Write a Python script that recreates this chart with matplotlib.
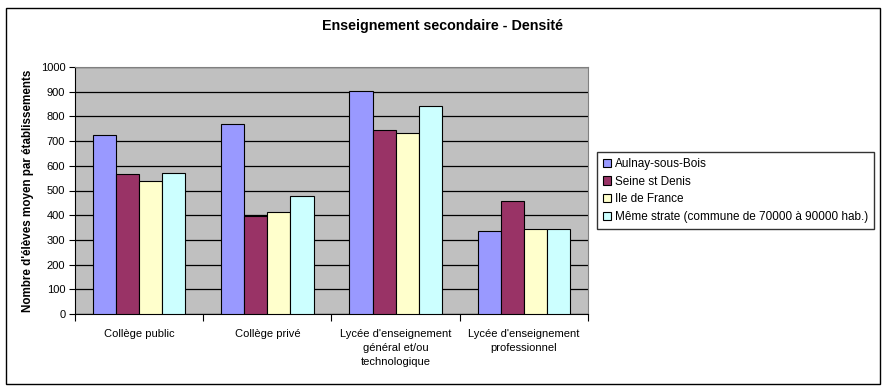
import matplotlib
matplotlib.use("Agg")
import matplotlib.pyplot as plt
from matplotlib.patches import Rectangle
import numpy as np

plt.rcParams['font.family'] = ['Liberation Sans', 'DejaVu Sans']

categories = ["Collège public", "Collège privé",
              "Lycée d'enseignement\ngénéral et/ou\ntechnologique",
              "Lycée d'enseignement\nprofessionnel"]
series_names = ["Aulnay-sous-Bois", "Seine st Denis", "Ile de France",
                "Même strate (commune de 70000 à 90000 hab.)"]
aulnay = [724, 768, 902, 335]
seine = [565, 398, 744, 456]
idf = [537, 414, 732, 343]
meme = [569, 476, 841, 343]
colors = ["#9999FF", "#993366", "#FFFFCC", "#CCFFFF"]
yticks = list(range(0, 1001, 100))

W, H = 887, 390
fig = plt.figure(figsize=(W / 100, H / 100), dpi=100)
fig.patch.set_facecolor("white")
fig.add_artist(Rectangle((6 / W, 1 - 384 / H), 874 / W, 376 / H, transform=fig.transFigure,
                         fill=False, edgecolor="black", linewidth=1.0))

ax = fig.add_axes([75 / W, 1 - 314 / H, (588 - 75) / W, (314 - 67) / H])
ax.set_facecolor("#C0C0C0")
x = np.arange(len(categories))
bw = 0.18
data = [aulnay, seine, idf, meme]
for i, (vals, c, name) in enumerate(zip(data, colors, series_names)):
    ax.bar(x + (i - 1.5) * bw, vals, bw, color=c, edgecolor="black", linewidth=0.8,
           label=name, zorder=3)

ax.set_xlim(-0.5, len(categories) - 0.5)
ax.set_ylim(0, 1000)
ax.set_yticks(yticks)
ax.set_yticklabels([str(v) for v in yticks], fontsize=8)
ax.yaxis.grid(True, color="black", linewidth=0.9, zorder=1)
ax.set_axisbelow(True)
ax.set_xticks(np.arange(len(categories) + 1) - 0.5)
ax.set_xticklabels([])
ax.set_xticks(x, minor=True)
ax.set_xticklabels(categories, minor=True, fontsize=8, linespacing=1.5)
ax.tick_params(axis='x', which='minor', length=0, pad=11)
ax.tick_params(axis='x', which='major', length=5, direction='out', color='black')
ax.tick_params(axis='y', length=4, direction='out', pad=3)
for s in ["top", "right"]:
    ax.spines[s].set_color("#808080")
    ax.spines[s].set_linewidth(0.8)
ax.spines["left"].set_color("black")
ax.spines["bottom"].set_color("black")

ax.set_ylabel("Nombre d'élèves moyen par établissements", fontsize=8.4, fontweight="bold",
              labelpad=5)
fig.text(443 / W, 1 - 26 / H, "Enseignement secondaire - Densité", ha="center", va="center",
         fontsize=10.3, fontweight="bold")

leg = fig.legend(loc="upper left", bbox_to_anchor=(597 / W, 1 - 152 / H), fontsize=8.5,
                 frameon=True, fancybox=False, edgecolor="black", handlelength=0.7,
                 handleheight=0.7, handletextpad=0.3, labelspacing=0.48, borderpad=0.5,
                 borderaxespad=0)
leg.get_frame().set_linewidth(1.0)

fig.savefig("out.png", dpi=100)
